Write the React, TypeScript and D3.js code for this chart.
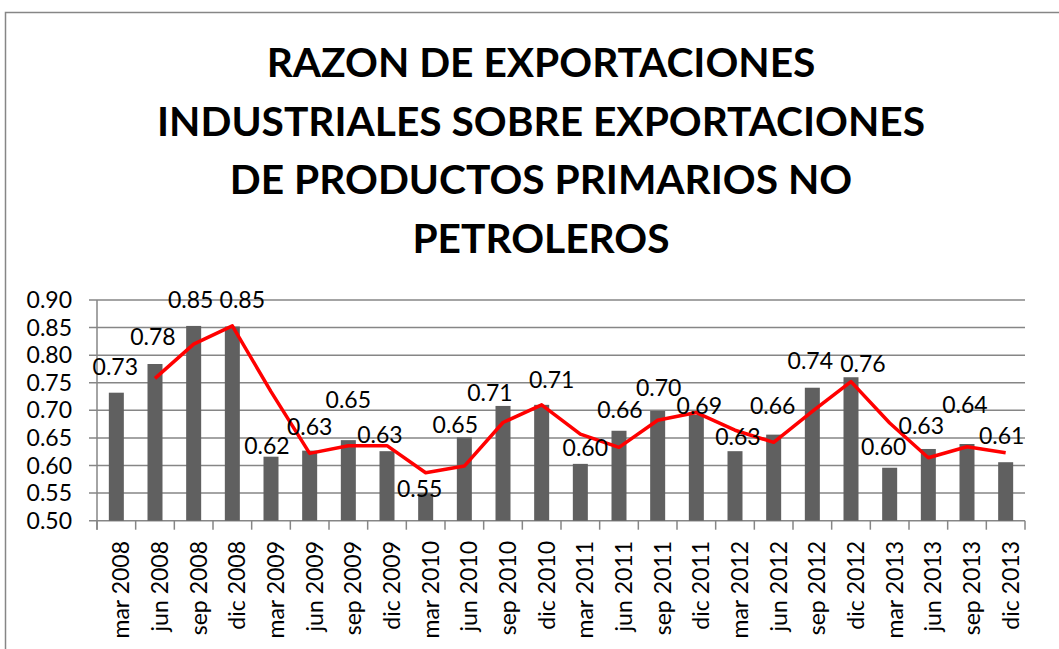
import React from 'react';
import * as d3 from 'd3';

const categories = [
  'mar 2008', 'jun 2008', 'sep 2008', 'dic 2008',
  'mar 2009', 'jun 2009', 'sep 2009', 'dic 2009',
  'mar 2010', 'jun 2010', 'sep 2010', 'dic 2010',
  'mar 2011', 'jun 2011', 'sep 2011', 'dic 2011',
  'mar 2012', 'jun 2012', 'sep 2012', 'dic 2012',
  'mar 2013', 'jun 2013', 'sep 2013', 'dic 2013',
];

const ratios = [
  0.732, 0.784, 0.853, 0.852,
  0.616, 0.627, 0.646, 0.626,
  0.550, 0.651, 0.708, 0.710,
  0.603, 0.663, 0.699, 0.692,
  0.626, 0.656, 0.741, 0.760,
  0.596, 0.630, 0.639, 0.606,
];

// red trend line (two-period moving average as drawn)
const trend: (number | null)[] = [
  null, 0.758, 0.820, 0.853,
  0.734, 0.622, 0.636, 0.636,
  0.587, 0.599, 0.678, 0.710,
  0.657, 0.633, 0.682, 0.696,
  0.664, 0.642, 0.698, 0.752,
  0.677, 0.614, 0.634, 0.623,
];

const yTicks = [0.5, 0.55, 0.6, 0.65, 0.7, 0.75, 0.8, 0.85, 0.9];

const titleLines = [
  'RAZON DE EXPORTACIONES',
  'INDUSTRIALES SOBRE EXPORTACIONES',
  'DE PRODUCTOS PRIMARIOS NO',
  'PETROLEROS',
];

// manual label nudges (px, relative to bar top centre), as in the original
const labelNudge: [number, number][] = [
  [-1, -26], [-2, -27], [-3, -26], [10, -27],
  [-4, -11], [0, -24], [0, -40], [-7, -16],
  [-6, -4], [-9, -12], [-13, -13], [10, -25],
  [5, -16], [1, -21], [1, -23], [3, -9],
  [3, -14], [-1, -29], [-2, -27], [12, -13],
  [-6, -21], [-7, -23], [-2, -39], [-4, -26],
];

const W = 1059;
const H = 649;
const plot = { left: 97, right: 1025, top: 300, bottom: 520.7 };
const FONT = 'Lato, "Open Sans", sans-serif';
const GRID = '#868686';
const NUM_SIZE = 23;

export default function App() {
  const x = d3
    .scaleBand<string>()
    .domain(categories)
    .range([plot.left, plot.right])
    .paddingInner(0.612)
    .paddingOuter(0.306);
  const y = d3.scaleLinear().domain([0.5, 0.9]).range([plot.bottom, plot.top]);
  const step = x.step();
  const fmt = d3.format('.2f');

  const line = d3
    .line<number | null>()
    .defined((d) => d !== null)
    .x((_, i) => (x(categories[i]) as number) + x.bandwidth() / 2)
    .y((d) => y(d as number));

  return (
    <svg
      width={W}
      height={H}
      style={{ position: 'absolute', left: 0, top: 0, background: '#fff' }}
    >
      <rect x={0} y={0} width={W} height={H} fill="#fff" />
      {/* chart border */}
      <rect x={5.5} y={12.5} width={1200} height={800} fill="none" stroke={GRID} strokeWidth={1.5} />

      {/* title */}
      {titleLines.map((t, i) => (
        <text
          key={t}
          x={541}
          y={77 + i * 58.5}
          textAnchor="middle"
          fontFamily={FONT}
          fontWeight={700}
          fontSize={40.7}
          fill="#000"
        >
          {t}
        </text>
      ))}

      {/* gridlines and y axis */}
      {yTicks.map((t) => (
        <g key={t}>
          <line x1={plot.left - 8} x2={plot.right} y1={y(t)} y2={y(t)} stroke={GRID} strokeWidth={1.5} />
          <text
            x={72}
            y={y(t)}
            dy="0.35em"
            textAnchor="end"
            fontFamily={FONT}
            fontSize={NUM_SIZE}
            fill="#000"
          >
            {fmt(t)}
          </text>
        </g>
      ))}
      <line x1={plot.left} x2={plot.left} y1={plot.top} y2={plot.bottom + 9} stroke={GRID} strokeWidth={1.5} />

      {/* x axis ticks */}
      {d3.range(categories.length + 1).map((i) => (
        <line
          key={i}
          x1={plot.left + i * step}
          x2={plot.left + i * step}
          y1={plot.bottom}
          y2={plot.bottom + 9}
          stroke={GRID}
          strokeWidth={1.5}
        />
      ))}

      {/* bars */}
      {ratios.map((v, i) => (
        <rect
          key={categories[i]}
          x={x(categories[i])}
          y={y(v)}
          width={x.bandwidth()}
          height={plot.bottom - y(v)}
          fill="#606060"
        />
      ))}

      {/* trend line */}
      <path d={line(trend) || ''} fill="none" stroke="#ff0000" strokeWidth={3.5} strokeLinejoin="round" />

      {/* data labels */}
      {ratios.map((v, i) => (
        <text
          key={'l' + i}
          x={(x(categories[i]) as number) + x.bandwidth() / 2 + labelNudge[i][0]}
          y={y(v) + labelNudge[i][1]}
          dy="0.35em"
          textAnchor="middle"
          fontFamily={FONT}
          fontSize={NUM_SIZE}
          fill="#000"
        >
          {fmt(v)}
        </text>
      ))}

      {/* x labels */}
      {categories.map((c) => {
        const cx = (x(c) as number) + x.bandwidth() / 2 + 5;
        return (
          <text
            key={c}
            transform={`translate(${cx},541) rotate(-90)`}
            dy="0.35em"
            textAnchor="end"
            fontFamily={FONT}
            fontSize={NUM_SIZE}
            fill="#000"
          >
            {c}
          </text>
        );
      })}
    </svg>
  );
}
